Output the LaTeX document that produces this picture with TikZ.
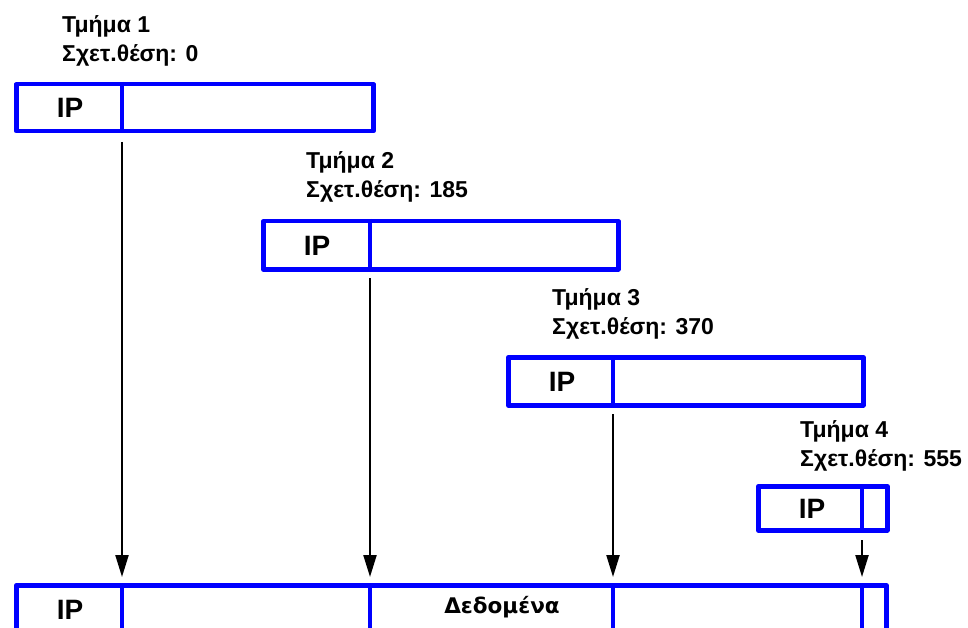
\documentclass[tikz,border=0pt]{standalone}
\usepackage{fontspec}
\setmainfont{Liberation Sans}
\newfontfamily\datafont{DejaVu Sans}
\usetikzlibrary{arrows.meta}
\begin{document}
\begin{tikzpicture}[x=1pt,y=-1pt,
  frag/.style={draw=blue,line width=4.5pt,line join=round,inner sep=0pt,anchor=north west},
  divider/.style={draw=blue,line width=4.5pt},
  lbl/.style={font=\bfseries\fontsize{23}{29}\selectfont,anchor=base west,inner sep=0pt},
  iptext/.style={font=\bfseries\fontsize{28}{28}\selectfont,inner sep=0pt,anchor=base},
  conn/.style={draw=black,line width=2.2pt,-{Triangle[length=22pt,width=13pt]}}]
\useasboundingbox (0,0) rectangle (968,628);
\clip (0,0) rectangle (968,628);
% fragments
\node[frag,minimum width=357pt,minimum height=47pt] (f1) at (14,82) {};
\node[frag,minimum width=355pt,minimum height=48pt] (f2) at (261,219) {};
\node[frag,minimum width=355pt,minimum height=48pt] (f3) at (506,355) {};
\node[frag,minimum width=129pt,minimum height=44pt] (f4) at (756,484) {};
\node[frag,minimum width=870pt,minimum height=70pt] (all) at (14,583) {};
% dividers
\draw[divider] (122,82) -- (122,129);
\draw[divider] (370,219) -- (370,267);
\draw[divider] (613,355) -- (613,403);
\draw[divider] (862,484) -- (862,528);
\foreach \x in {122,370,613,862} \draw[divider] (\x,583) -- (\x,640);
% labels
\node[lbl] (l1a) at (62,33) {Τμήμα 1};
\node[lbl] (l1b) at (62,62) {Σχετ.θέση: 0};
\node[lbl] (l2a) at (306,169) {Τμήμα 2};
\node[lbl] (l2b) at (306,198) {Σχετ.θέση: 185};
\node[lbl] (l3a) at (552,305) {Τμήμα 3};
\node[lbl] (l3b) at (552,334) {Σχετ.θέση: 370};
\node[lbl] (l4a) at (800,437) {Τμήμα 4};
\node[lbl] (l4b) at (800,466) {Σχετ.θέση: 555};
% IP texts
\node[iptext] (ip1) at (70,118) {IP};
\node[iptext] (ip2) at (317,255) {IP};
\node[iptext] (ip3) at (562,391) {IP};
\node[iptext] (ip4) at (812,518) {IP};
\node[iptext] (ipall) at (70,619) {IP};
\node[font=\datafont\bfseries\fontsize{21.5}{21.5}\selectfont,inner sep=0pt,anchor=base] (data) at (502,613) {Δεδομένα};
% connectors
\coordinate (s1) at (122,142); \coordinate (e1) at (122,577);
\coordinate (s2) at (370,278); \coordinate (e2) at (370,577);
\coordinate (s3) at (613,414); \coordinate (e3) at (613,577);
\coordinate (s4) at (862,540); \coordinate (e4) at (862,577);
\draw[conn] (s1) -- (e1);
\draw[conn] (s2) -- (e2);
\draw[conn] (s3) -- (e3);
\draw[conn] (s4) -- (e4);
\end{tikzpicture}
\end{document}
